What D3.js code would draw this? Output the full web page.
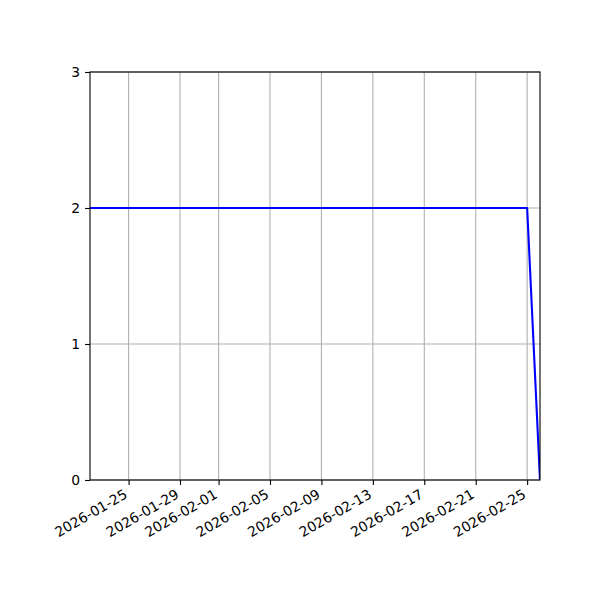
<!DOCTYPE html>
<html>
<head>
<meta charset="utf-8">
<script src="https://cdn.jsdelivr.net/npm/d3@7"></script>
<style>
  body { margin: 0; background: #fff; }
  svg { font-family: 'DejaVu Sans', sans-serif; }
</style>
</head>
<body>
<div id="chart"></div>
<script>
const dates = [
  '2026-01-22', '2026-01-23', '2026-01-24', '2026-01-25', '2026-01-26', '2026-01-27',
  '2026-01-28', '2026-01-29', '2026-01-30', '2026-01-31', '2026-02-01', '2026-02-02',
  '2026-02-03', '2026-02-04', '2026-02-05', '2026-02-06', '2026-02-07', '2026-02-08',
  '2026-02-09', '2026-02-10', '2026-02-11', '2026-02-12', '2026-02-13', '2026-02-14',
  '2026-02-15', '2026-02-16', '2026-02-17', '2026-02-18', '2026-02-19', '2026-02-20',
  '2026-02-21', '2026-02-22', '2026-02-23', '2026-02-24', '2026-02-25', '2026-02-26'
];
const values = [
  2, 2, 2, 2, 2, 2,
  2, 2, 2, 2, 2, 2,
  2, 2, 2, 2, 2, 2,
  2, 2, 2, 2, 2, 2,
  2, 2, 2, 2, 2, 2,
  2, 2, 2, 2, 2, 0
];
const xTickLabels = [
  '2026-01-25', '2026-01-29', '2026-02-01', '2026-02-05', '2026-02-09',
  '2026-02-13', '2026-02-17', '2026-02-21', '2026-02-25'
];
const yTicks = [0, 1, 2, 3];

const parse = d3.utcParse('%Y-%m-%d');
const data = dates.map((d, i) => ({ date: parse(d), value: values[i] }));

const width = 600, height = 600;
const margin = { top: 72, right: 60, bottom: 120, left: 90 };
const fontSize = 13.9;

const svg = d3.select('#chart')
  .append('svg')
  .attr('width', width)
  .attr('height', height);

const x = d3.scaleUtc()
  .domain(d3.extent(data, d => d.date))
  .range([margin.left, width - margin.right]);

const y = d3.scaleLinear()
  .domain([0, 3])
  .range([height - margin.bottom, margin.top]);

const xTicks = xTickLabels.map(parse);

// grid
const grid = svg.append('g')
  .attr('stroke', '#b0b0b0')
  .attr('stroke-width', 1.1);
grid.selectAll('.vx')
  .data(xTicks)
  .enter()
  .append('line')
  .attr('x1', d => x(d))
  .attr('x2', d => x(d))
  .attr('y1', margin.top)
  .attr('y2', height - margin.bottom);
grid.selectAll('.hy')
  .data(yTicks)
  .enter()
  .append('line')
  .attr('x1', margin.left)
  .attr('x2', width - margin.right)
  .attr('y1', d => y(d))
  .attr('y2', d => y(d));

// line
svg.append('defs').append('clipPath')
  .attr('id', 'clip')
  .append('rect')
  .attr('x', margin.left)
  .attr('y', margin.top)
  .attr('width', width - margin.left - margin.right)
  .attr('height', height - margin.top - margin.bottom);

svg.append('path')
  .datum(data)
  .attr('clip-path', 'url(#clip)')
  .attr('fill', 'none')
  .attr('stroke', '#0000ff')
  .attr('stroke-width', 2.1)
  .attr('stroke-linejoin', 'round')
  .attr('d', d3.line().x(d => x(d.date)).y(d => y(d.value)));

// x axis
const xAxis = svg.append('g')
  .attr('transform', `translate(0,${height - margin.bottom})`)
  .call(d3.axisBottom(x).tickValues(xTicks).tickSize(4.9).tickFormat(d3.utcFormat('%Y-%m-%d')));
xAxis.select('.domain').remove();
xAxis.selectAll('.tick line').attr('stroke', '#000').attr('stroke-width', 1.1);
xAxis.selectAll('.tick text')
  .attr('font-size', fontSize)
  .attr('font-family', 'DejaVu Sans, sans-serif')
  .attr('fill', '#000')
  .attr('text-anchor', 'end')
  .attr('y', 0)
  .attr('dy', '0.76em')
  .attr('transform', 'translate(-6,8) rotate(-30)');

// y axis
const yAxis = svg.append('g')
  .attr('transform', `translate(${margin.left},0)`)
  .call(d3.axisLeft(y).tickValues(yTicks).tickSize(4.9).tickPadding(5).tickFormat(d3.format('d')));
yAxis.select('.domain').remove();
yAxis.selectAll('.tick line').attr('stroke', '#000').attr('stroke-width', 1.1);
yAxis.selectAll('.tick text')
  .attr('font-size', fontSize)
  .attr('font-family', 'DejaVu Sans, sans-serif')
  .attr('fill', '#000');

// frame
svg.append('rect')
  .attr('x', margin.left)
  .attr('y', margin.top)
  .attr('width', width - margin.left - margin.right)
  .attr('height', height - margin.top - margin.bottom)
  .attr('fill', 'none')
  .attr('stroke', '#000')
  .attr('stroke-width', 1.1);
</script>
</body>
</html>
